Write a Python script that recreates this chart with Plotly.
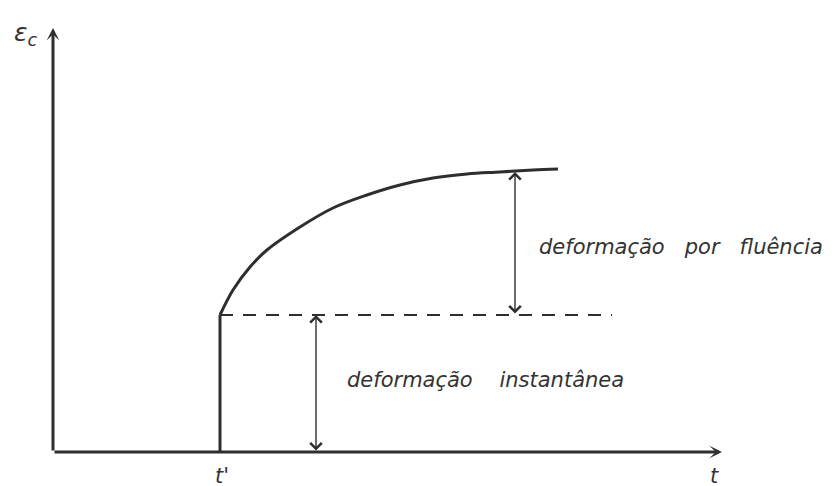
import plotly.graph_objects as go

# Schematic data (time axis t, strain axis eps)
t_load = 167            # t'
eps_inst = 137          # instantaneous strain level
t_curve = [167, 180, 197, 214, 247, 280, 314, 347, 380, 414, 447, 480, 505]
eps_curve = [137, 162, 185, 202, 225, 244, 257, 267, 274, 278, 280, 282, 283]
t_dash_end = 559
t_creep_arrow = 462
eps_creep_top = 280
t_inst_arrow = 263
t_axis_end = 669
eps_axis_end = 424

labels = {
    "creep": "deformação\u00a0\u00a0 por\u00a0\u00a0 fluência",
    "inst": "deformação\u00a0\u00a0\u00a0 instantânea",
    "y": "ε<sub>c</sub>",
    "tp": "t'",
    "t": "t",
}

line_col = "#2e2e2e"
txt_col = "#333333"

fig = go.Figure()

# vertical jump at t'
fig.add_trace(go.Scatter(x=[t_load, t_load], y=[0, eps_inst], mode="lines",
                         line=dict(color=line_col, width=3), hoverinfo="skip"))
# creep curve
fig.add_trace(go.Scatter(x=t_curve, y=eps_curve, mode="lines",
                         line=dict(color=line_col, width=3, shape="spline", smoothing=1.0),
                         hoverinfo="skip"))
# dashed instantaneous level
fig.add_trace(go.Scatter(x=[t_load, t_dash_end], y=[eps_inst, eps_inst], mode="lines",
                         line=dict(color=line_col, width=2, dash="13px,10px"), hoverinfo="skip"))

ann = []
# axes with arrows
for (xt, yt) in [(0, eps_axis_end), (t_axis_end, 0)]:
    ann.append(dict(x=xt, y=yt, ax=0, ay=0, axref="x", ayref="y", xref="x", yref="y",
                    text="", showarrow=True, arrowhead=3, arrowwidth=3, arrowsize=0.7,
                    arrowcolor=line_col, standoff=0))
# dimension arrows (double headed)
for (xa, y0, y1) in [(t_creep_arrow, eps_inst, eps_creep_top), (t_inst_arrow, 0, eps_inst)]:
    ann.append(dict(x=xa, y=y1, ax=xa, ay=y0,
                    axref="x", ayref="y", xref="x", yref="y", text="", showarrow=True,
                    arrowhead=4, startarrowhead=4, arrowside="end+start", arrowwidth=1.4,
                    arrowsize=1.6, startarrowsize=1.6, arrowcolor=line_col,
                    standoff=0, startstandoff=0))

fnt = dict(family="DejaVu Sans", size=21, color=txt_col, style="italic")
ann.append(dict(x=484, y=205, xref="x", yref="y", text=labels["creep"], showarrow=False,
                xanchor="left", yanchor="middle", font=fnt))
ann.append(dict(x=292, y=72, xref="x", yref="y", text=labels["inst"], showarrow=False,
                xanchor="left", yanchor="middle", font=fnt))
ann.append(dict(x=-27, y=418, xref="x", yref="y", text=labels["y"], showarrow=False,
                xanchor="center", yanchor="middle",
                font=dict(family="DejaVu Sans", size=25, color=txt_col, style="italic")))
ann.append(dict(x=t_load + 2, y=-24, xref="x", yref="y", text=labels["tp"], showarrow=False,
                xanchor="center", yanchor="middle",
                font=dict(family="DejaVu Sans", size=21, color=txt_col, style="italic")))
ann.append(dict(x=661, y=-24, xref="x", yref="y", text=labels["t"], showarrow=False,
                xanchor="center", yanchor="middle",
                font=dict(family="DejaVu Sans", size=21, color=txt_col, style="italic")))

fig.update_layout(
    width=837, height=486,
    margin=dict(l=0, r=0, t=0, b=0),
    paper_bgcolor="white", plot_bgcolor="white",
    showlegend=False,
    # page body has an 8px margin; ranges chosen so the origin lands where the reference has it
    xaxis=dict(range=[-45, 792], visible=False, fixedrange=True),
    yaxis=dict(range=[-42, 444], visible=False, fixedrange=True),
    annotations=ann,
)

fig.write_html("out.html")
